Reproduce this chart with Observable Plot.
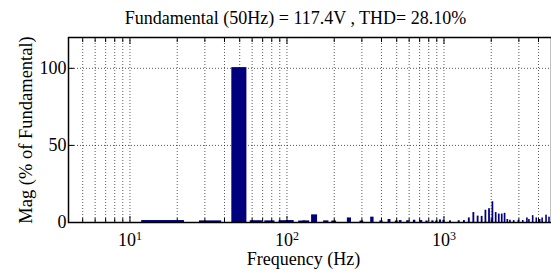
<!DOCTYPE html>
<html><head><meta charset="utf-8">
<script src="https://cdn.jsdelivr.net/npm/d3@7"></script>
<script src="https://cdn.jsdelivr.net/npm/@observablehq/plot@0.6"></script>
<style>html,body{margin:0;padding:0;background:#fff}svg{display:block}</style>
</head><body><div id="chart"></div>
<script>
// Spectrum bins (Hz) and magnitudes (% of fundamental)
const freqHz = [17, 33, 50, 64, 78, 95, 105, 125, 133, 150, 178, 200, 250, 300, 350, 400, 450, 500, 530, 590, 650, 720, 780, 850, 900, 950, 1000, 1100, 1250, 1350, 1450, 1550, 1650, 1750, 1850, 1950, 2050, 2150, 2250, 2350, 2450, 2550, 2650, 2800, 3000, 3200, 3400, 3500, 3700, 3900, 4100, 4250, 4500, 4700];
const magPct = [0.8, 0.6, 100, 0.7, 0.6, 0.7, 0.8, 0.5, 0.6, 4.5, 0.6, 0.5, 2.5, 0.5, 3.0, 0.6, 1.5, 0.5, 0.8, 0.7, 1.0, 0.8, 0.5, 0.6, 0.5, 1.2, 1.0, 0.6, 0.7, 0.8, 2.5, 6.0, 3.7, 3.5, 7.5, 8.5, 13, 6.0, 5.0, 5.0, 5.5, 1.5, 1.0, 0.8, 1.0, 0.8, 2.5, 1.5, 4.0, 2.5, 1.5, 2.5, 4.3, 3.0];
const binHz = 10;
const xMajorTicks = [10, 100, 1000];
const xMinorTicks = [5, 6, 7, 8, 9, 20, 30, 40, 50, 60, 70, 80, 90, 200, 300, 400, 500, 600, 700, 800, 900, 2000, 3000, 4000];
const yTicks = [0, 50, 100];
const yGrid = [50, 100];
const titleText = "Fundamental (50Hz) = 117.4V , THD= 28.10%";
const xLabel = "Frequency (Hz)";
const yLabel = "Mag (% of Fundamental)";

const bars = freqHz.map((f, i) => ({f, m: magPct[i]}));
const allX = [...xMinorTicks, ...xMajorTicks];
const serif = "'Liberation Serif', 'Times New Roman', serif";
const barColor = "#00007f";

const chart = Plot.plot({
  width: 551, height: 272,
  marginLeft: 68, marginRight: 0, marginTop: 37, marginBottom: 50,
  style: {fontFamily: serif, fontSize: "18px", background: "#fff", color: "#000"},
  x: {type: "log", domain: [4.06, 4840], axis: null},
  y: {domain: [0, 120], axis: null},
  marks: [
    Plot.gridX(allX, {stroke: "#000", strokeOpacity: 0.65, strokeDasharray: "1,2"}),
    Plot.gridY(yGrid, {stroke: "#000", strokeOpacity: 0.65, strokeDasharray: "1,2"}),
    Plot.rectY(bars, {x1: d => d.f - binHz / 2, x2: d => d.f + binHz / 2, y: "m", fill: barColor, stroke: barColor, strokeWidth: 1.4, clip: true}),
    // inward tick marks (MATLAB style)
    Plot.axisX(xMajorTicks, {anchor: "bottom", tickSize: 6, dy: -6, text: null, label: null}),
    Plot.axisX(xMinorTicks, {anchor: "bottom", tickSize: 4, dy: -4, text: null, label: null}),
    Plot.axisX(xMajorTicks, {anchor: "top", tickSize: 6, dy: 6, text: null, label: null}),
    Plot.axisX(xMinorTicks, {anchor: "top", tickSize: 4, dy: 4, text: null, label: null}),
    Plot.axisY(yTicks, {anchor: "left", tickSize: 6, dx: 6, text: null, label: null}),
    // tick labels
    Plot.axisX(xMajorTicks, {anchor: "bottom", tickSize: 0, tickPadding: 11, fontSize: 18, label: null,
      tickFormat: d => "10^" + Math.round(Math.log10(d))}),
    Plot.axisY(yTicks, {anchor: "left", tickSize: 0, tickPadding: 2, fontSize: 18, label: null}),
    Plot.frame({stroke: "#000", strokeWidth: 1.5}),
    // titles
    Plot.text([titleText], {frameAnchor: "top", dx: -14.5, dy: -14, lineAnchor: "bottom", fontSize: 18}),
    Plot.text([xLabel], {frameAnchor: "bottom", dx: -6.5, dy: 30, lineAnchor: "top", fontSize: 18}),
    Plot.text([yLabel], {frameAnchor: "left", textAnchor: "middle", rotate: -90, dx: -42, fontSize: 18.5})
  ]
});
// render x tick labels as 10 with a raised exponent
d3.select(chart).selectAll("text").each(function() {
  const t = d3.select(this);
  const m = /^10\^(\d)$/.exec(t.text());
  if (!m) return;
  t.text("10");
  t.append("tspan").attr("dy", "-0.5em").attr("font-size", "12px").text(m[1]);
});
document.getElementById("chart").appendChild(chart);
</script>
</body></html>
